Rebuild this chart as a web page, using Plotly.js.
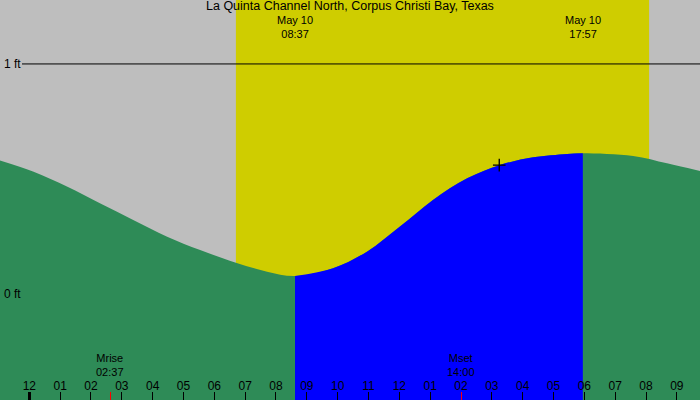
<!DOCTYPE html>
<html>
<head>
<meta charset="utf-8">
<script src="https://cdn.plot.ly/plotly-3.0.1.min.js"></script>
<style>
  html, body { margin: 0; padding: 0; background: #bebebe; }
  #myDiv { width: 700px; height: 400px; }
</style>
</head>
<body>
<div id="myDiv"></div>
<script>
// tide curve, hours from midnight May 10, height in feet
var tideHours = [-0.95, 0.12, 1.22, 2.29, 3.37, 4.47, 5.54, 6.70, 7.71, 8.617, 9.85, 10.95,
                 12.02, 13.09, 14.20, 15.27, 16.34, 17.44, 17.95, 19.58, 20.68, 21.75];
var tideFeet  = [0.580, 0.532, 0.467, 0.394, 0.322, 0.249, 0.191, 0.136, 0.097, 0.078, 0.112, 0.184,
                 0.293, 0.409, 0.503, 0.561, 0.594, 0.609, 0.612, 0.600, 0.568, 0.535];

var extremeHours = [8.617, 17.95];          // low / high tide
var extremeDates = ['May 10', 'May 10'];
var extremeTimes = ['08:37', '17:57'];

var sunHours = [6.70, 20.10];               // daylight band
var moonHours = [2.617, 14.0];
var moonNames = ['Mrise', 'Mset'];
var moonTimes = ['02:37', '14:00'];

var nowHour = 15.24, nowFeet = 0.56;

var hourTicks  = [0, 1, 2, 3, 4, 5, 6, 7, 8, 9, 10, 11, 12, 13, 14, 15, 16, 17, 18, 19, 20, 21];
var hourLabels = ['12','01','02','03','04','05','06','07','08','09','10','11',
                  '12','01','02','03','04','05','06','07','08','09'];
var midnight = [0];
var refLevels = [1, 0];
var refLabels = ['1 ft', '0 ft'];

var title = 'La Quinta Channel North, Corpus Christi Bay, Texas';

var xRange = [-0.95, 21.75];
var yRange = [-0.461, 1.278];
var bottom = yRange[0];
var FONT = 'Liberation Sans, Arial, sans-serif';

function yPaper(px) { return 1 - px / 400; }

// blue part: between low and high tide
var bx = [], by = [];
for (var i = 0; i < tideHours.length; i++) {
  if (tideHours[i] >= extremeHours[0] && tideHours[i] <= extremeHours[1]) {
    bx.push(tideHours[i]);
    by.push(tideFeet[i]);
  }
}

var data = [
  { x: [tideHours[0], tideHours[tideHours.length - 1]], y: [bottom, bottom],
    mode: 'lines', line: {width: 0}, hoverinfo: 'skip' },
  { x: tideHours, y: tideFeet, mode: 'lines', line: {width: 0, shape: 'spline'},
    fill: 'tonexty', fillcolor: '#2e8b57', hoverinfo: 'skip' },
  { x: [bx[0], bx[bx.length - 1]], y: [bottom, bottom],
    mode: 'lines', line: {width: 0}, hoverinfo: 'skip' },
  { x: bx, y: by, mode: 'lines', line: {width: 0, shape: 'spline'},
    fill: 'tonexty', fillcolor: '#0000ff', hoverinfo: 'skip' },
  { x: [nowHour], y: [nowFeet], mode: 'markers',
    marker: {symbol: 'cross-thin-open', size: 9, color: '#000', line: {width: 1.3, color: '#000'}},
    hoverinfo: 'skip' },
  // empty traces so the overlay tick axes get drawn
  { x: midnight, y: [null], xaxis: 'x2', mode: 'markers', hoverinfo: 'skip' },
  { x: moonHours, y: [null, null], xaxis: 'x3', mode: 'markers', hoverinfo: 'skip' }
];

var annotations = [
  { text: title, xref: 'paper', yref: 'paper', x: 0.5, y: yPaper(6.5), yanchor: 'middle',
    showarrow: false, font: {family: FONT, size: 12.5, color: '#000'} }
];
for (var i = 0; i < extremeHours.length; i++) {
  annotations.push({ text: extremeDates[i] + '<br>' + extremeTimes[i], x: extremeHours[i],
    xref: 'x', yref: 'paper', y: yPaper(27), yanchor: 'middle', showarrow: false,
    font: {family: FONT, size: 11, color: '#000'} });
}
for (var i = 0; i < moonHours.length; i++) {
  annotations.push({ text: moonNames[i] + '<br>' + moonTimes[i], x: moonHours[i],
    xref: 'x', yref: 'paper', y: yPaper(365), yanchor: 'middle', showarrow: false,
    font: {family: FONT, size: 11, color: '#000'} });
}
for (var i = 0; i < refLevels.length; i++) {
  annotations.push({ text: refLabels[i], x: 2 / 700, xref: 'paper', y: refLevels[i], yref: 'y',
    xanchor: 'left', yanchor: 'middle', showarrow: false, font: {family: FONT, size: 12, color: '#000'} });
}

var shapes = [
  { type: 'rect', layer: 'below', xref: 'x', yref: 'paper', x0: sunHours[0], x1: sunHours[1],
    y0: 0, y1: 1, fillcolor: '#cfcd00', line: {width: 0} },
  { type: 'line', layer: 'above', xref: 'paper', yref: 'y', x0: 22 / 700, x1: 1,
    y0: refLevels[0], y1: refLevels[0], line: {color: '#000', width: 1} }
];

var baseAxis = {
  range: xRange, showgrid: false, zeroline: false, showline: false, fixedrange: true
};

var layout = {
  width: 700, height: 400,
  margin: {l: 0, r: 0, t: 0, b: 0},
  paper_bgcolor: '#bebebe', plot_bgcolor: '#bebebe',
  showlegend: false,
  font: {family: FONT, size: 12, color: '#000'},
  xaxis: Object.assign({}, baseAxis, {
    tickmode: 'array', tickvals: hourTicks, ticktext: hourLabels,
    ticks: 'inside', ticklen: 8, tickwidth: 1, tickcolor: '#000',
    ticklabelposition: 'inside', ticklabelstandoff: -1,
    tickfont: {family: FONT, size: 12, color: '#000'}
  }),
  xaxis2: Object.assign({}, baseAxis, {
    overlaying: 'x', anchor: 'y', side: 'bottom',
    tickmode: 'array', tickvals: midnight, ticks: 'inside', ticklen: 8, tickwidth: 3,
    tickcolor: '#000', showticklabels: false
  }),
  xaxis3: Object.assign({}, baseAxis, {
    overlaying: 'x', anchor: 'y', side: 'bottom',
    tickmode: 'array', tickvals: moonHours, ticks: 'inside', ticklen: 8, tickwidth: 1,
    tickcolor: '#ff0000', showticklabels: false
  }),
  yaxis: { range: yRange, showgrid: false, zeroline: false, showline: false,
    showticklabels: false, ticks: '', fixedrange: true },
  annotations: annotations,
  shapes: shapes
};

Plotly.newPlot('myDiv', data, layout, {staticPlot: true, displayModeBar: false});
</script>
</body>
</html>
